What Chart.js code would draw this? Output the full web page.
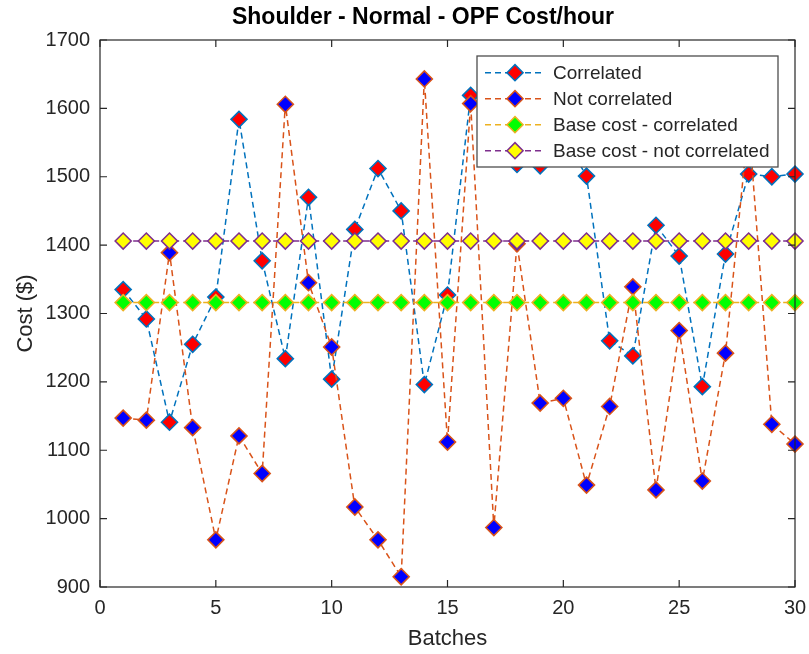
<!DOCTYPE html>
<html>
<head>
<meta charset="utf-8">
<title>Shoulder - Normal - OPF Cost/hour</title>
<script src="https://cdn.jsdelivr.net/npm/chart.js@4.4.1/dist/chart.umd.min.js"></script>
<style>
  html, body { margin: 0; padding: 0; background: #ffffff; }
  canvas { display: block; }
</style>
</head>
<body>
<canvas id="chart" width="809" height="654"></canvas>
<script>
// Batch numbers on the x axis
const batches = [1, 2, 3, 4, 5, 6, 7, 8, 9, 10, 11, 12, 13, 14, 15,
                 16, 17, 18, 19, 20, 21, 22, 23, 24, 25, 26, 27, 28, 29, 30];

// OPF cost per hour ($) for each batch
const correlated = [1335, 1292, 1141, 1255, 1324, 1584, 1377, 1234, 1470, 1204,
                    1423, 1512, 1450, 1196, 1327, 1619, 1590, 1518, 1516, 1560,
                    1501, 1260, 1238, 1429, 1384, 1193, 1387, 1504, 1500, 1504];
const notCorrelated = [1147, 1144, 1389, 1133, 969, 1121, 1066, 1606, 1345, 1251,
                       1017, 969, 915, 1643, 1112, 1607, 987, 1402, 1169, 1176,
                       1049, 1164, 1339, 1042, 1275, 1055, 1242, 1580, 1138, 1109];
const baseCorrelated = [1316, 1316, 1316, 1316, 1316, 1316, 1316, 1316, 1316, 1316,
                        1316, 1316, 1316, 1316, 1316, 1316, 1316, 1316, 1316, 1316,
                        1316, 1316, 1316, 1316, 1316, 1316, 1316, 1316, 1316, 1316];
const baseNotCorrelated = [1406, 1406, 1406, 1406, 1406, 1406, 1406, 1406, 1406, 1406,
                           1406, 1406, 1406, 1406, 1406, 1406, 1406, 1406, 1406, 1406,
                           1406, 1406, 1406, 1406, 1406, 1406, 1406, 1406, 1406, 1406];

// Tick labels
const xTickValues = [0, 5, 10, 15, 20, 25, 30];
const yTickValues = [900, 1000, 1100, 1200, 1300, 1400, 1500, 1600, 1700];

// Texts
const seriesNames = ['Correlated', 'Not correlated', 'Base cost - correlated', 'Base cost - not correlated'];
const chartTitle = 'Shoulder - Normal - OPF Cost/hour';
const xAxisTitle = 'Batches';
const yAxisTitle = 'Cost ($)';

const FONT = "'Liberation Sans', Arial, Helvetica, sans-serif";
const AXIS_COLOR = '#262626';

function toPoints(values) {
  return batches.map((b, i) => ({ x: b, y: values[i] }));
}

function series(label, values, lineColor, faceColor, order) {
  return {
    label,
    data: toPoints(values),
    borderColor: lineColor,
    backgroundColor: faceColor,
    borderWidth: 1.5,
    borderDash: [6, 4],
    pointStyle: 'rectRot',
    pointRadius: 8,
    pointHoverRadius: 8,
    pointBackgroundColor: faceColor,
    pointBorderColor: lineColor,
    pointBorderWidth: 1.6,
    tension: 0,
    fill: false,
    clip: false,
    order
  };
}

// Diamond marker used in the legend
function diamond(ctx, cx, cy, r) {
  ctx.beginPath();
  ctx.moveTo(cx - r, cy);
  ctx.lineTo(cx, cy - r);
  ctx.lineTo(cx + r, cy);
  ctx.lineTo(cx, cy + r);
  ctx.closePath();
}

// Axes box with inward ticks, legend and titles
const framePlugin = {
  id: 'frame',
  afterDatasetsDraw(chart) {
    const { ctx, chartArea: a, scales } = chart;
    const xs = scales.x, ys = scales.y;
    ctx.save();
    ctx.strokeStyle = AXIS_COLOR;
    ctx.lineWidth = 1.2;
    ctx.setLineDash([]);
    ctx.strokeRect(a.left, a.top, a.right - a.left, a.bottom - a.top);
    const tick = 7;
    ctx.beginPath();
    xTickValues.forEach(v => {
      const px = xs.getPixelForValue(v);
      ctx.moveTo(px, a.bottom); ctx.lineTo(px, a.bottom - tick);
      ctx.moveTo(px, a.top); ctx.lineTo(px, a.top + tick);
    });
    yTickValues.forEach(v => {
      const py = ys.getPixelForValue(v);
      ctx.moveTo(a.left, py); ctx.lineTo(a.left + tick, py);
      ctx.moveTo(a.right, py); ctx.lineTo(a.right - tick, py);
    });
    ctx.stroke();

    // Legend box
    const lg = { left: a.left + 377, top: a.top + 16, width: 301, height: 111 };
    ctx.fillStyle = '#ffffff';
    ctx.fillRect(lg.left, lg.top, lg.width, lg.height);
    ctx.strokeStyle = '#4d4d4d';
    ctx.lineWidth = 1.3;
    ctx.strokeRect(lg.left, lg.top, lg.width, lg.height);

    chart.data.datasets.forEach((ds, i) => {
      const cy = lg.top + 16.7 + i * 26;
      ctx.strokeStyle = ds.borderColor;
      ctx.lineWidth = ds.borderWidth;
      ctx.setLineDash(ds.borderDash);
      ctx.beginPath();
      ctx.moveTo(lg.left + 8, cy);
      ctx.lineTo(lg.left + 65, cy);
      ctx.stroke();
      ctx.setLineDash([]);
      diamond(ctx, lg.left + 38, cy, ds.pointRadius);
      ctx.fillStyle = ds.pointBackgroundColor;
      ctx.fill();
      ctx.lineWidth = ds.pointBorderWidth;
      ctx.strokeStyle = ds.pointBorderColor;
      ctx.stroke();
      ctx.fillStyle = AXIS_COLOR;
      ctx.font = '19px ' + FONT;
      ctx.textAlign = 'left';
      ctx.textBaseline = 'middle';
      ctx.fillText(ds.label, lg.left + 76, cy + 1);
    });
    ctx.restore();
  },
  afterDraw(chart) {
    const { ctx, chartArea: a } = chart;
    ctx.save();
    ctx.fillStyle = '#000000';
    ctx.textAlign = 'center';
    ctx.textBaseline = 'middle';
    ctx.font = 'bold 23px ' + FONT;
    ctx.fillText(chartTitle, 423, 18);

    ctx.fillStyle = AXIS_COLOR;
    ctx.font = '22px ' + FONT;
    ctx.fillText(xAxisTitle, (a.left + a.right) / 2, 639);

    ctx.translate(26, (a.top + a.bottom) / 2);
    ctx.rotate(-Math.PI / 2);
    ctx.fillText(yAxisTitle, 0, 0);
    ctx.restore();
  }
};

new Chart(document.getElementById('chart'), {
  type: 'line',
  data: {
    datasets: [
      series(seriesNames[0], correlated, '#0072BD', '#FF0000', 3),
      series(seriesNames[1], notCorrelated, '#D95319', '#0000FF', 2),
      series(seriesNames[2], baseCorrelated, '#EDB120', '#00FF00', 1),
      series(seriesNames[3], baseNotCorrelated, '#7E2F8E', '#FFFF00', 0)
    ]
  },
  options: {
    responsive: false,
    animation: false,
    devicePixelRatio: 1,
    events: [],
    layout: { padding: { top: 40, right: 14, left: 0, bottom: 0 } },
    plugins: {
      legend: { display: false },
      title: { display: false },
      tooltip: { enabled: false }
    },
    scales: {
      x: {
        type: 'linear',
        min: 0,
        max: 30,
        afterBuildTicks: s => { s.ticks = xTickValues.map(v => ({ value: v })); },
        afterFit: s => { s.height = 67; s.paddingLeft = 0; s.paddingRight = 0; },
        grid: { display: false, drawTicks: false },
        border: { display: false },
        ticks: {
          font: { family: FONT, size: 20 },
          color: AXIS_COLOR,
          padding: 9,
          maxRotation: 0,
          autoSkip: false,
          callback: v => String(v)
        }
      },
      y: {
        type: 'linear',
        min: 900,
        max: 1700,
        afterBuildTicks: s => { s.ticks = yTickValues.map(v => ({ value: v })); },
        afterFit: s => { s.width = 100; s.paddingTop = 0; s.paddingBottom = 0; },
        grid: { display: false, drawTicks: false },
        border: { display: false },
        ticks: {
          font: { family: FONT, size: 20 },
          color: AXIS_COLOR,
          padding: 10,
          autoSkip: false,
          callback: v => String(v)
        }
      }
    }
  },
  plugins: [framePlugin]
});
</script>
</body>
</html>
